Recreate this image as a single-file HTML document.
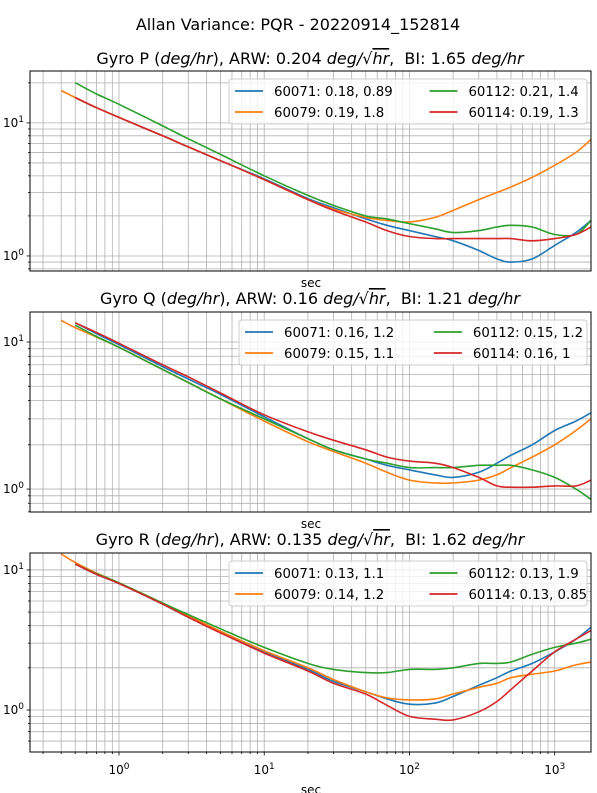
<!DOCTYPE html>
<html><head><meta charset="utf-8"><style>
html,body{margin:0;padding:0;background:#fff}
svg{display:block;font-family:"DejaVu Sans","Liberation Sans",sans-serif}
</style></head><body>
<svg id="fig" width="597" height="793" viewBox="0 0 597 793" xmlns="http://www.w3.org/2000/svg">
<rect width="597" height="793" fill="#fff"/>
<text x="298" y="30" font-size="16" text-anchor="middle">Allan Variance: PQR - 20220914_152814</text>
</svg>
<script>
const taus = [0.4,0.5,0.7,1,2,3,5,10,20,30,50,70,100,150,200,300,400,500,700,1000,1400,1778];
const seriesNames = ["60071","60079","60112","60114"];
const colors = ["#1f77b4","#ff7f0e","#2ca02c","#d62728"];
// P
const pBlue   = [null,15.5,13,11,8.0,6.6,5.2,3.8,2.7,2.3,1.9,1.7,1.55,1.4,1.3,1.1,0.95,0.9,0.95,1.2,1.5,1.85];
const pOrange = [17.5,15.5,13,11,8.0,6.6,5.2,3.75,2.65,2.25,1.95,1.85,1.8,1.95,2.2,2.65,3.0,3.3,3.9,4.8,6.0,7.5];
const pGreen  = [null,20,16.5,13.8,9.5,7.6,5.8,4.0,2.85,2.4,2.0,1.9,1.75,1.6,1.5,1.55,1.65,1.7,1.65,1.45,1.45,1.85];
const pRed    = [null,15.5,13,11,8.0,6.6,5.2,3.75,2.65,2.2,1.8,1.55,1.4,1.35,1.35,1.35,1.35,1.35,1.3,1.35,1.45,1.65];
// Q
const qBlue   = [null,13.5,11.4,9.6,6.8,5.6,4.4,3.1,2.2,1.85,1.6,1.45,1.35,1.25,1.2,1.3,1.5,1.7,2.0,2.5,2.9,3.3];
const qOrange = [14,12.5,10.8,9.2,6.5,5.3,4.1,2.9,2.1,1.8,1.5,1.3,1.15,1.1,1.1,1.15,1.25,1.4,1.65,2.0,2.5,3.0];
const qGreen  = [null,13,10.9,9.2,6.5,5.3,4.1,3.0,2.2,1.85,1.6,1.5,1.4,1.4,1.4,1.45,1.45,1.45,1.35,1.2,1.0,0.85];
const qRed    = [null,13.5,11.6,9.8,7.0,5.8,4.5,3.2,2.45,2.15,1.85,1.65,1.55,1.5,1.4,1.2,1.05,1.03,1.03,1.05,1.05,1.15];
// R
const rBlue   = [null,11,9.3,8,5.7,4.6,3.6,2.6,1.95,1.6,1.35,1.2,1.1,1.12,1.25,1.5,1.7,1.9,2.15,2.6,3.2,3.9];
const rOrange = [13,11.3,9.5,8.1,5.8,4.7,3.65,2.65,2.0,1.65,1.35,1.22,1.18,1.2,1.3,1.45,1.55,1.7,1.8,1.9,2.1,2.2];
const rGreen  = [null,11,9.4,8.1,5.8,4.8,3.8,2.8,2.15,1.95,1.85,1.85,1.95,1.95,2.0,2.15,2.15,2.2,2.5,2.8,3.0,3.2];
const rRed    = [null,11,9.3,8,5.7,4.6,3.55,2.55,1.9,1.55,1.3,1.08,0.9,0.86,0.85,0.97,1.15,1.4,1.9,2.6,3.2,3.7];
const legendP = ["60071: 0.18, 0.89","60079: 0.19, 1.8","60112: 0.21, 1.4","60114: 0.19, 1.3"];
const legendQ = ["60071: 0.16, 1.2","60079: 0.15, 1.1","60112: 0.15, 1.2","60114: 0.16, 1"];
const legendR = ["60071: 0.13, 1.1","60079: 0.14, 1.2","60112: 0.13, 1.9","60114: 0.13, 0.85"];
const xTickVals = [1,10,100,1000];
const xTickLabels = ["0","1","2","3"];

const NS="http://www.w3.org/2000/svg";
const svg=document.getElementById('fig');
function mk(tag,attrs,parent){const e=document.createElementNS(NS,tag);for(const k in attrs)e.setAttribute(k,attrs[k]);(parent||svg).appendChild(e);return e;}
const X0=30,X1=591,xmin=Math.log10(0.244),xmax=Math.log10(1778);
function xs(v){return X0+(Math.log10(v)-xmin)/(xmax-xmin)*(X1-X0);}
function smooth(pts){let d='M'+pts[0][0].toFixed(1)+','+pts[0][1].toFixed(1);
 for(let i=0;i<pts.length-1;i++){const p0=pts[i-1]||pts[i],p1=pts[i],p2=pts[i+1],p3=pts[i+2]||p2;
  const c1=[p1[0]+(p2[0]-p0[0])/6,p1[1]+(p2[1]-p0[1])/6],c2=[p2[0]-(p3[0]-p1[0])/6,p2[1]-(p3[1]-p1[1])/6];
  d+='C'+c1.map(n=>n.toFixed(1))+' '+c2.map(n=>n.toFixed(1))+' '+p2[0].toFixed(1)+','+p2[1].toFixed(1);}
 return d;}

const panels=[
 {name:"p",top:71,bot:271,ymin:-0.113,ymax:1.39,data:[pBlue,pOrange,pGreen,pRed],legend:legendP,leg:[229,79],title:["Gyro P (","deg/hr","), ARW: 0.204 ","deg/","hr",",\u00a0\u00a0BI: 1.65 ","deg/hr"],ty:64,bottom:false},
 {name:"q",top:312,bot:512,ymin:-0.156,ymax:1.204,data:[qBlue,qOrange,qGreen,qRed],legend:legendQ,leg:[239,320],title:["Gyro Q (","deg/hr","), ARW: 0.16 ","deg/","hr",",\u00a0\u00a0BI: 1.21 ","deg/hr"],ty:304,bottom:false},
 {name:"r",top:553,bot:752,ymin:-0.3,ymax:1.121,data:[rBlue,rOrange,rGreen,rRed],legend:legendR,leg:[229,561],title:["Gyro R (","deg/hr","), ARW: 0.135 ","deg/","hr",",\u00a0\u00a0BI: 1.62 ","deg/hr"],ty:545,bottom:true}
];
panels.forEach(P=>{
 const ys=v=>P.bot-(Math.log10(v)-P.ymin)/(P.ymax-P.ymin)*(P.bot-P.top);
 const g=mk('g',{});
 
 
 for(let d=-1;d<=3;d++)for(let m=1;m<10;m++){const v=m*Math.pow(10,d);const x=xs(v);if(x<X0||x>X1)continue;
   mk('line',{x1:x,x2:x,y1:P.top,y2:P.bot,stroke:'#b0b0b0','stroke-width':0.8},g);
   if(P.bottom) mk('line',{x1:x,x2:x,y1:P.bot,y2:P.bot+(m==1?3.5:2),stroke:'#000','stroke-width':0.8},g);}
 for(let d=-1;d<=1;d++)for(let m=1;m<10;m++){const v=m*Math.pow(10,d);const y=ys(v);if(y<P.top||y>P.bot)continue;
   mk('line',{x1:X0,x2:X1,y1:y,y2:y,stroke:'#b0b0b0','stroke-width':0.8},g);
   mk('line',{x1:X0-(m==1?3.5:2),x2:X0,y1:y,y2:y,stroke:'#000','stroke-width':0.8},g);
   if(m==1){const t=mk('text',{x:X0-6,y:y+4,'font-size':12,'text-anchor':'end'},g);
     
     t.innerHTML='10<tspan dy="-5" font-size="9">'+d+'</tspan>';}}
 const cp=mk('clipPath',{id:'clip-'+P.name},svg);mk('rect',{x:X0,y:P.top,width:X1-X0,height:P.bot-P.top},cp);
 P.data.forEach((arr,i)=>{const pts=[];arr.forEach((v,j)=>{if(v==null)return;pts.push([xs(taus[j]),ys(v)]);});
   const p=mk('path',{d:smooth(pts),fill:'none',stroke:colors[i],'stroke-width':1.6,'clip-path':'url(#clip-'+P.name+')'},g);
   });
 const fr=mk('rect',{x:X0,y:P.top,width:X1-X0,height:P.bot-P.top,fill:'none',stroke:'#000','stroke-width':1},g);
 
 const [lx,ly]=P.leg;const lg=mk('g',{},g);
 
 mk('rect',{x:lx,y:ly,width:587-lx,height:45,rx:3,fill:'#fff','fill-opacity':0.8,stroke:'#ccc'},lg);
 const colX=[lx+6, lx+(587-lx)*0.56];
 P.legend.forEach((s,i)=>{const cx=colX[i>>1],cy=ly+12+(i&1)*21;
   const e=mk('g',{},lg);
   mk('line',{x1:cx,x2:cx+28,y1:cy,y2:cy,stroke:colors[i],'stroke-width':1.8},e);
   const t=mk('text',{x:cx+39,y:cy+5,'font-size':13.3},e);t.textContent=s;});
 const T=P.title;const tt=mk('text',{x:310,y:P.ty,'font-size':16,'text-anchor':'middle'},g);
 
 tt.innerHTML=T[0]+'<tspan font-style="italic">'+T[1]+'</tspan>'+T[2]+'<tspan font-style="italic">'+T[3]+'</tspan>√<tspan font-style="italic" text-decoration="overline">'+T[4]+'</tspan>'+T[5]+'<tspan font-style="italic">'+T[6]+'</tspan>';
 const sl=mk('text',{x:311,y:P.bot+(P.bottom?42:16),'font-size':12,'text-anchor':'middle'},g);sl.textContent='sec';
 
 if(P.bottom) xTickVals.forEach((v,i)=>{const t=mk('text',{x:xs(v),y:P.bot+22,'font-size':12,'text-anchor':'middle'},g);
   
   t.innerHTML='10<tspan dy="-5" font-size="9">'+xTickLabels[i]+'</tspan>';});
});
</script>
</body></html>
